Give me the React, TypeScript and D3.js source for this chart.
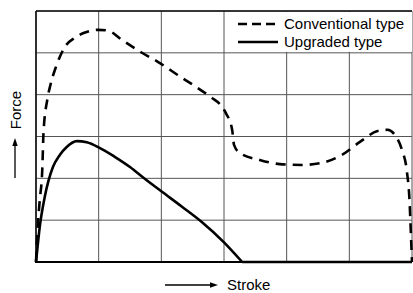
import * as d3 from "d3";

const width = 413;
const height = 293;
const marginLeft = 36;
const marginRight = 1;
const marginTop = 11;
const marginBottom = 31;

// grid units: 6 columns x 6 rows, no tick labels
const gridTicks = [0, 1, 2, 3, 4, 5, 6];

// Conventional type (dashed)
const convX = [0, 0.03, 0.06, 0.1, 0.12, 0.18, 0.23, 0.32, 0.46, 0.62, 0.77, 0.99, 1.15, 1.37, 1.67, 1.95, 2.26, 2.55, 2.81, 2.93, 3.03, 3.13, 3.16, 3.25, 3.57, 3.89, 4.24, 4.56, 4.88, 5.17, 5.45, 5.61, 5.74, 5.84, 5.92, 5.96, 5.98, 6.0];
const convY = [0, 0.89, 1.48, 2.2, 3.1, 3.88, 4.23, 4.67, 5.14, 5.36, 5.48, 5.55, 5.53, 5.31, 5.02, 4.78, 4.47, 4.19, 3.92, 3.78, 3.56, 3.16, 2.8, 2.61, 2.44, 2.34, 2.32, 2.37, 2.56, 2.87, 3.13, 3.16, 3.01, 2.68, 2.15, 1.48, 0.77, 0];

// Upgraded type (solid)
const upX = [0, 0.02, 0.06, 0.14, 0.27, 0.38, 0.49, 0.65, 0.81, 1.0, 1.25, 1.5, 1.71, 2.0, 2.33, 2.65, 3.0, 3.29, 6.0];
const upY = [0, 0.29, 0.84, 1.56, 2.27, 2.56, 2.75, 2.89, 2.86, 2.74, 2.52, 2.27, 2.02, 1.69, 1.32, 0.95, 0.47, 0, 0];

const legendLabels = ["Conventional type", "Upgraded type"];

const font = "'Liberation Sans', Arial, sans-serif";

const App = () => {
    const x = d3.scaleLinear([0, 6], [marginLeft, width - marginRight]);
    const y = d3.scaleLinear([0, 6], [height - marginBottom, marginTop]);

    const curve = d3.line<[number, number]>((d) => x(d[0]), (d) => y(d[1])).curve(d3.curveMonotoneX);
    const conv = convX.map((v, i) => [v, convY[i]] as [number, number]);
    const upMain = upX.slice(0, -1).map((v, i) => [v, upY[i]] as [number, number]);
    const upTail = upX.slice(-2).map((v, i) => [v, upY[upY.length - 2 + i]] as [number, number]);

    return (
        <svg width={width} height={height} style={{ position: "absolute", left: 0, top: 0, background: "white" }}>
            {/* grid */}
            <g stroke="#555" strokeWidth={1}>
                {gridTicks.map((t) => (
                    <line key={"v" + t} x1={x(t)} x2={x(t)} y1={y(0)} y2={y(6)} />
                ))}
                {gridTicks.map((t) => (
                    <line key={"h" + t} x1={x(0)} x2={x(6)} y1={y(t)} y2={y(t)} />
                ))}
            </g>
            {/* frame */}
            <line x1={x(0)} x2={x(0)} y1={y(0)} y2={y(6)} stroke="#111" strokeWidth={1.6} />
            <line x1={x(0)} x2={x(6)} y1={y(6)} y2={y(6)} stroke="#111" strokeWidth={1.4} />
            <line x1={x(0) - 1} x2={x(6)} y1={y(0)} y2={y(0)} stroke="#000" strokeWidth={2.2} />

            {/* legend box */}
            <rect x={228} y={y(6) + 1} width={x(6) - 228} height={y(5) - y(6) - 2} fill="white" />
            <g fontFamily={font} fontSize={15} fill="#000">
                <line x1={238} x2={278} y1={24} y2={24} stroke="#000" strokeWidth={2.4} strokeDasharray="9 5" />
                <text x={284} y={29}>{legendLabels[0]}</text>
                <line x1={238} x2={278} y1={42} y2={42} stroke="#000" strokeWidth={2.4} />
                <text x={284} y={47}>{legendLabels[1]}</text>
            </g>

            {/* curves */}
            <path d={curve(conv) as string} fill="none" stroke="#000" strokeWidth={2.6} strokeDasharray="10 7" />
            <path d={curve(upMain) as string} fill="none" stroke="#000" strokeWidth={2.6} />
            <path d={d3.line()(upTail.map((d) => [x(d[0]), y(d[1])])) as string} fill="none" stroke="#000" strokeWidth={2.6} />

            {/* axis labels with arrows */}
            <g fontFamily={font} fontSize={15} fill="#000">
                <text transform="translate(21,110) rotate(-90)" textAnchor="middle">Force</text>
                <line x1={15} x2={15} y1={178} y2={144} stroke="#000" strokeWidth={1.3} />
                <path d="M15,138 L12.3,146 L17.7,146 Z" />
                <text x={227} y={290}>Stroke</text>
                <line x1={165} x2={212} y1={285} y2={285} stroke="#000" strokeWidth={1.3} />
                <path d="M218,285 L210,282.3 L210,287.7 Z" />
            </g>
        </svg>
    );
};

export default App;
